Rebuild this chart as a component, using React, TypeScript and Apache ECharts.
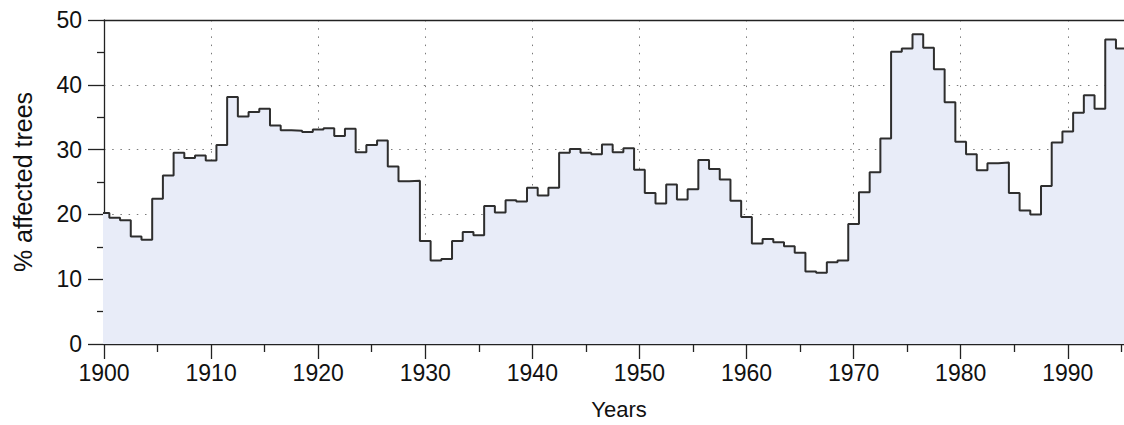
import React, { useEffect, useRef } from "react";
import * as echarts from "echarts";

const years: number[] = [
  1900, 1901, 1902, 1903, 1904, 1905, 1906, 1907, 1908, 1909,
  1910, 1911, 1912, 1913, 1914, 1915, 1916, 1917, 1918, 1919,
  1920, 1921, 1922, 1923, 1924, 1925, 1926, 1927, 1928, 1929,
  1930, 1931, 1932, 1933, 1934, 1935, 1936, 1937, 1938, 1939,
  1940, 1941, 1942, 1943, 1944, 1945, 1946, 1947, 1948, 1949,
  1950, 1951, 1952, 1953, 1954, 1955, 1956, 1957, 1958, 1959,
  1960, 1961, 1962, 1963, 1964, 1965, 1966, 1967, 1968, 1969,
  1970, 1971, 1972, 1973, 1974, 1975, 1976, 1977, 1978, 1979,
  1980, 1981, 1982, 1983, 1984, 1985, 1986, 1987, 1988, 1989,
  1990, 1991, 1992, 1993, 1994, 1995,
];

const affected: number[] = [
  20.2, 19.5, 19.1, 16.6, 16.1, 22.4, 26.0, 29.5, 28.7, 29.1,
  28.3, 30.7, 38.1, 35.1, 35.8, 36.3, 33.7, 33.0, 32.9, 32.7,
  33.1, 33.3, 32.1, 33.2, 29.6, 30.7, 31.4, 27.4, 25.1, 25.2,
  15.9, 12.9, 13.1, 15.9, 17.3, 16.8, 21.3, 20.3, 22.2, 22.0,
  24.1, 22.9, 24.1, 29.5, 30.1, 29.5, 29.3, 30.8, 29.6, 30.2,
  26.9, 23.3, 21.7, 24.6, 22.3, 23.9, 28.4, 27.0, 25.4, 22.1,
  19.6, 15.5, 16.2, 15.7, 15.1, 14.1, 11.2, 11.0, 12.6, 12.9,
  18.5, 23.4, 26.5, 31.7, 45.1, 45.6, 47.8, 45.7, 42.4, 37.3,
  31.2, 29.3, 26.8, 27.9, 28.0, 23.3, 20.6, 20.0, 24.4, 31.1,
  32.8, 35.7, 38.4, 36.3, 47.0, 45.6,
];

const xMajorTicks: number[] = [1900, 1910, 1920, 1930, 1940, 1950, 1960, 1970, 1980, 1990];
const xMinorTicks: number[] = [1905, 1915, 1925, 1935, 1945, 1955, 1965, 1975, 1985, 1995];

const xTitle = "Years";
const yTitle = "% affected trees";
const xMin = 1900;
const xMax = 1995.25;
const yMin = 0;
const yMax = 50;

const FONT = "'Liberation Sans', Arial, Helvetica, sans-serif";
const INK = "#222";

export default function App() {
  const ref = useRef<HTMLDivElement>(null);

  useEffect(() => {
    if (!ref.current) return;
    const chart = echarts.init(ref.current, undefined, { renderer: "svg" });

    // each yearly value holds from half a year before to half a year after
    const stepData: [number, number][] = years.map((y, i) => [y - 0.5, affected[i]]);
    stepData.push([years[years.length - 1] + 0.5, affected[affected.length - 1]]);

    const dotted = { color: "#7a7a7a", width: 1, type: [1.5, 6.7] as number[] };
    const axisLineStyle = { color: INK, width: 1.3 };

    chart.setOption({
      animation: false,
      backgroundColor: "#ffffff",
      textStyle: { fontFamily: FONT },
      grid: { left: 104, right: 0, top: 20, bottom: 78, containLabel: false },
      xAxis: [
        {
          type: "value",
          min: xMin,
          max: xMax,
          interval: 10,
          name: xTitle,
          nameLocation: "middle",
          nameGap: 54,
          nameTextStyle: { fontSize: 22, color: "#111", fontFamily: FONT, padding: [0, 0, 0, 10] },
          axisLine: { show: true, onZero: false, lineStyle: axisLineStyle },
          axisTick: { show: true, length: 15, customValues: xMajorTicks, lineStyle: axisLineStyle },
          axisLabel: {
            fontSize: 23,
            color: "#111",
            margin: 17,
            fontFamily: FONT,
            customValues: xMajorTicks,
            formatter: (v: number) => String(v),
          },
          splitLine: { show: true, lineStyle: dotted },
        },
        {
          type: "value",
          position: "bottom",
          min: xMin,
          max: xMax,
          axisLine: { show: false, onZero: false },
          axisTick: { show: true, length: 8, customValues: xMinorTicks, lineStyle: axisLineStyle },
          axisLabel: { show: false },
          splitLine: { show: false },
        },
        {
          type: "value",
          position: "top",
          min: xMin,
          max: xMax,
          axisLine: { show: true, onZero: false, lineStyle: axisLineStyle },
          axisTick: { show: false },
          axisLabel: { show: false },
          splitLine: { show: false },
        },
      ],
      yAxis: {
        type: "value",
        min: yMin,
        max: yMax,
        interval: 10,
        name: yTitle,
        nameLocation: "middle",
        nameGap: 69,
        nameRotate: 90,
        nameTextStyle: { fontSize: 25, color: "#111", fontFamily: FONT },
        axisLine: { show: true, onZero: false, lineStyle: axisLineStyle },
        axisTick: { show: true, length: 16, lineStyle: axisLineStyle },
        minorTick: { show: true, splitNumber: 2, length: 7, lineStyle: axisLineStyle },
        axisLabel: { fontSize: 23, color: "#111", margin: 22, fontFamily: FONT },
        splitLine: { show: true, lineStyle: dotted },
      },
      series: [
        {
          type: "line",
          xAxisIndex: 0,
          data: stepData,
          step: "end",
          symbol: "none",
          clip: true,
          lineStyle: { color: "#2e2e2e", width: 2 },
          areaStyle: { color: "#e8ecf8", opacity: 1, origin: "start" },
          z: 1,
        },
      ],
    });

    return () => chart.dispose();
  }, []);

  return (
    <div
      ref={ref}
      style={{ position: "absolute", left: 0, top: 0, width: 1124, height: 425 }}
    />
  );
}
